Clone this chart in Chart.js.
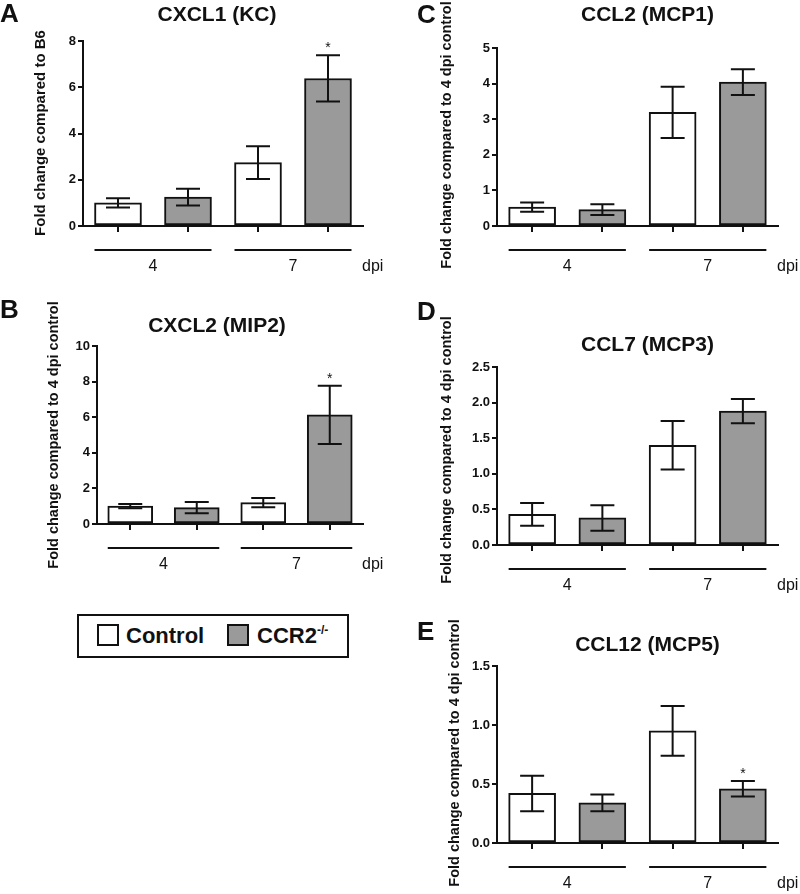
<!DOCTYPE html>
<html>
<head>
<meta charset="utf-8">
<script src="https://cdn.jsdelivr.net/npm/chart.js@4.4.1/dist/chart.umd.min.js"></script>
<style>
html,body{margin:0;padding:0;background:#fff;}
#page{position:relative;width:800px;height:894px;overflow:hidden;background:#fff;font-family:'Liberation Sans',Arial,sans-serif;}
#page canvas{position:absolute;}
#legend{position:absolute;left:77px;top:614px;width:272px;height:44px;box-sizing:border-box;border:2px solid #111;background:#fff;}
.sw{position:absolute;top:8px;width:22px;height:22px;box-sizing:border-box;border:2px solid #111;}
.lt{position:absolute;top:9px;font-weight:bold;font-size:22px;line-height:22px;color:#111;white-space:nowrap;}
.lt sup{font-size:12px;vertical-align:9px;line-height:0;}
</style>
</head>
<body>
<div id="page">
  <div id="legend">
    <div class="sw" style="left:18px;background:#ffffff;"></div>
    <div class="lt" style="left:47px;">Control</div>
    <div class="sw" style="left:148px;background:#9a9a9a;"></div>
    <div class="lt" style="left:178px;">CCR2<sup>-/-</sup></div>
  </div>
</div>
<script>
// ---------- data ----------
const dpiLabels = ['4', '7'];
const barLabels = ['4 dpi Control', '4 dpi CCR2-/-', '7 dpi Control', '7 dpi CCR2-/-'];

// A: CXCL1 (KC)
const cxcl1Control = [1.00, 2.74];
const cxcl1ControlSem = [0.20, 0.71];
const cxcl1Ccr2 = [1.25, 6.38];
const cxcl1Ccr2Sem = [0.36, 1.00];
const cxcl1Ticks = [0, 2, 4, 6, 8];
const cxcl1Significant = ['7 dpi CCR2-/-'];

// B: CXCL2 (MIP2)
const cxcl2Control = [1.00, 1.20];
const cxcl2ControlSem = [0.12, 0.26];
const cxcl2Ccr2 = [0.92, 6.13];
const cxcl2Ccr2Sem = [0.31, 1.63];
const cxcl2Ticks = [0, 2, 4, 6, 8, 10];
const cxcl2Significant = ['7 dpi CCR2-/-'];

// C: CCL2 (MCP1)
const ccl2Control = [0.53, 3.19];
const ccl2ControlSem = [0.13, 0.72];
const ccl2Ccr2 = [0.46, 4.04];
const ccl2Ccr2Sem = [0.15, 0.36];
const ccl2Ticks = [0, 1, 2, 3, 4, 5];
const ccl2Significant = [];

// D: CCL7 (MCP3)
const ccl7Control = [0.43, 1.40];
const ccl7ControlSem = [0.16, 0.34];
const ccl7Ccr2 = [0.38, 1.88];
const ccl7Ccr2Sem = [0.18, 0.17];
const ccl7Ticks = [0, 0.5, 1.0, 1.5, 2.0, 2.5];
const ccl7Significant = [];

// E: CCL12 (MCP5)
const ccl12Control = [0.42, 0.95];
const ccl12ControlSem = [0.15, 0.21];
const ccl12Ccr2 = [0.34, 0.46];
const ccl12Ccr2Sem = [0.07, 0.065];
const ccl12Ticks = [0, 0.5, 1.0, 1.5];
const ccl12Significant = ['7 dpi CCR2-/-'];

// ---------- style ----------
const INK = '#111111';
const GREY = '#9a9a9a';
const FONT = "'Liberation Sans', Arial, sans-serif";
const YAXIS_W = 45;
Chart.defaults.font.family = FONT;
Chart.defaults.color = INK;

const page = document.getElementById('page');

function interleave(a, b) { return [a[0], b[0], a[1], b[1]]; }

function decor(spec, values, sems) {
  return {
    id: 'decor_' + spec.letter,
    afterDatasetsDraw(chart) {
      const ctx = chart.ctx;
      const ys = chart.scales.y;
      const meta = chart.getDatasetMeta(0);
      ctx.save();
      ctx.strokeStyle = INK;
      ctx.lineWidth = 2;
      meta.data.forEach((bar, i) => {
        const yT = ys.getPixelForValue(values[i] + sems[i]);
        const yB = ys.getPixelForValue(values[i] - sems[i]);
        const cap = 12;
        ctx.beginPath();
        ctx.moveTo(bar.x, yT); ctx.lineTo(bar.x, yB);
        ctx.moveTo(bar.x - cap, yT); ctx.lineTo(bar.x + cap, yT);
        ctx.moveTo(bar.x - cap, yB); ctx.lineTo(bar.x + cap, yB);
        ctx.stroke();
        if (spec.significant.includes(barLabels[i])) {
          ctx.fillStyle = INK;
          ctx.font = '14px ' + FONT;
          ctx.textAlign = 'center';
          ctx.textBaseline = 'alphabetic';
          ctx.fillText('*', bar.x, yT - 3);
        }
      });
      ctx.restore();
    },
    afterDraw(chart) {
      const ctx = chart.ctx;
      const ca = chart.chartArea;
      const meta = chart.getDatasetMeta(0);
      const ox = spec.box[0], oy = spec.box[1];
      ctx.save();
      ctx.fillStyle = INK;
      ctx.strokeStyle = INK;
      // panel letter
      ctx.font = 'bold 26px ' + FONT;
      ctx.textAlign = 'left';
      ctx.textBaseline = 'alphabetic';
      ctx.fillText(spec.letter, spec.letterPos[0] - ox, spec.letterPos[1] - oy);
      // title
      ctx.font = 'bold 21px ' + FONT;
      ctx.textAlign = 'center';
      ctx.fillText(spec.title, spec.titlePos[0] - ox, spec.titlePos[1] - oy);
      // y title
      ctx.save();
      ctx.translate(spec.yTitlePos[0] - ox, spec.yTitlePos[1] - oy);
      ctx.rotate(-Math.PI / 2);
      ctx.font = 'bold ' + spec.yTitleSize + 'px ' + FONT;
      ctx.textAlign = 'center';
      ctx.textBaseline = 'middle';
      ctx.fillText(spec.yTitle, 0, 0);
      ctx.restore();
      // group lines and labels
      const lineY = ca.bottom + 24;
      ctx.lineWidth = 2;
      ctx.font = '16px ' + FONT;
      ctx.textAlign = 'center';
      ctx.textBaseline = 'alphabetic';
      for (let g = 0; g < dpiLabels.length; g++) {
        const b1 = meta.data[2 * g], b2 = meta.data[2 * g + 1];
        const x1 = b1.x - b1.width / 2, x2 = b2.x + b2.width / 2;
        ctx.beginPath();
        ctx.moveTo(x1, lineY); ctx.lineTo(x2, lineY);
        ctx.stroke();
        ctx.fillText(dpiLabels[g], (x1 + x2) / 2, lineY + 21);
      }
      ctx.textAlign = 'left';
      ctx.fillText('dpi', ca.right - 1, lineY + 21);
      ctx.restore();
    }
  };
}

function makePanel(spec) {
  const [bx, by, bw, bh] = spec.box;
  const [L, T, R, B] = spec.area;
  const cv = document.createElement('canvas');
  cv.width = bw; cv.height = bh;
  cv.style.left = bx + 'px'; cv.style.top = by + 'px';
  cv.style.width = bw + 'px'; cv.style.height = bh + 'px';
  page.appendChild(cv);
  const values = interleave(spec.control, spec.ccr2);
  const sems = interleave(spec.controlSem, spec.ccr2Sem);
  const ticks = spec.ticks;
  new Chart(cv, {
    type: 'bar',
    data: {
      labels: barLabels,
      datasets: [{
        label: spec.title,
        data: values,
        backgroundColor: ['#ffffff', GREY, '#ffffff', GREY],
        borderColor: INK,
        borderWidth: 2,
        borderSkipped: false,
        barThickness: spec.barW
      }]
    },
    options: {
      responsive: false,
      animation: false,
      events: [],
      layout: { padding: { left: L - bx - YAXIS_W, top: T - by, right: bx + bw - R, bottom: by + bh - B } },
      plugins: { legend: { display: false }, tooltip: { enabled: false }, title: { display: false } },
      scales: {
        x: {
          type: 'category',
          offset: true,
          grid: { offset: false, drawOnChartArea: false, drawTicks: true, tickLength: 6, lineWidth: 2, color: INK },
          border: { display: true, color: INK, width: 2 },
          ticks: { display: false },
          afterFit(s) { s.height = 0; }
        },
        y: {
          min: ticks[0],
          max: ticks[ticks.length - 1],
          grid: { drawOnChartArea: false, drawTicks: true, tickLength: 5, lineWidth: 2, color: INK },
          border: { display: true, color: INK, width: 2 },
          ticks: {
            font: { size: 13, weight: 'bold' },
            color: INK,
            padding: 2,
            callback: (v) => Number(v).toFixed(spec.decimals)
          },
          afterBuildTicks(s) { s.ticks = ticks.map(v => ({ value: v })); },
          afterFit(s) { s.width = YAXIS_W; }
        }
      }
    },
    plugins: [decor(spec, values, sems)]
  });
}

makePanel({
  letter: 'A', title: 'CXCL1 (KC)', yTitle: 'Fold change compared to B6', yTitleSize: 15,
  control: cxcl1Control, controlSem: cxcl1ControlSem, ccr2: cxcl1Ccr2, ccr2Sem: cxcl1Ccr2Sem,
  ticks: cxcl1Ticks, decimals: 0, significant: cxcl1Significant,
  box: [0, 0, 400, 295], area: [83, 41, 363, 226], barW: 47,
  letterPos: [0, 22], titlePos: [217, 21], yTitlePos: [41, 133]
});
makePanel({
  letter: 'C', title: 'CCL2 (MCP1)', yTitle: 'Fold change compared to 4 dpi control', yTitleSize: 14.5,
  control: ccl2Control, controlSem: ccl2ControlSem, ccr2: ccl2Ccr2, ccr2Sem: ccl2Ccr2Sem,
  ticks: ccl2Ticks, decimals: 0, significant: ccl2Significant,
  box: [400, 0, 400, 295], area: [497, 48, 778, 226], barW: 47,
  letterPos: [417, 23], titlePos: [647.5, 21], yTitlePos: [447, 135]
});
makePanel({
  letter: 'B', title: 'CXCL2 (MIP2)', yTitle: 'Fold change compared to 4 dpi control', yTitleSize: 14.5,
  control: cxcl2Control, controlSem: cxcl2ControlSem, ccr2: cxcl2Ccr2, ccr2Sem: cxcl2Ccr2Sem,
  ticks: cxcl2Ticks, decimals: 0, significant: cxcl2Significant,
  box: [0, 295, 400, 300], area: [97, 346, 363, 524], barW: 45,
  letterPos: [0, 318], titlePos: [217, 332], yTitlePos: [54, 435]
});
makePanel({
  letter: 'D', title: 'CCL7 (MCP3)', yTitle: 'Fold change compared to 4 dpi control', yTitleSize: 14.5,
  control: ccl7Control, controlSem: ccl7ControlSem, ccr2: ccl7Ccr2, ccr2Sem: ccl7Ccr2Sem,
  ticks: ccl7Ticks, decimals: 1, significant: ccl7Significant,
  box: [400, 295, 400, 305], area: [497, 367, 778, 545], barW: 47,
  letterPos: [417, 320], titlePos: [647.5, 351], yTitlePos: [447, 450]
});
makePanel({
  letter: 'E', title: 'CCL12 (MCP5)', yTitle: 'Fold change compared to 4 dpi control', yTitleSize: 14.5,
  control: ccl12Control, controlSem: ccl12ControlSem, ccr2: ccl12Ccr2, ccr2Sem: ccl12Ccr2Sem,
  ticks: ccl12Ticks, decimals: 1, significant: ccl12Significant,
  box: [400, 600, 400, 294], area: [497, 666, 778, 843], barW: 47,
  letterPos: [417, 640], titlePos: [647.5, 651], yTitlePos: [455, 753]
});
</script>
</body>
</html>
